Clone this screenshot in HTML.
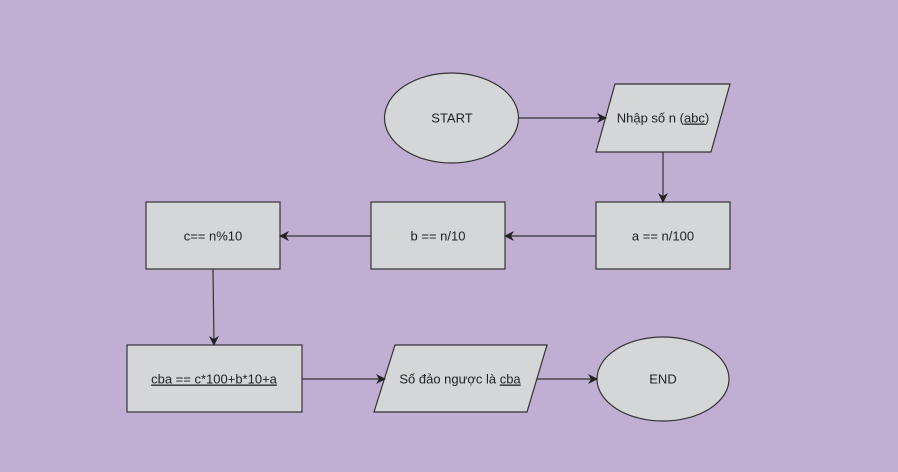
<!DOCTYPE html>
<html><head><meta charset="utf-8"><style>
html,body{margin:0;padding:0;background:#c1aed3;}
svg{display:block;}
text{font-family:"Liberation Sans",sans-serif;font-size:13px;fill:#222;}
</style></head><body>
<svg width="898" height="472" viewBox="0 0 898 472" xmlns="http://www.w3.org/2000/svg">
<defs><marker id="a" markerWidth="10" markerHeight="10" refX="9" refY="5" orient="auto" markerUnits="userSpaceOnUse"><path d="M0,0 L10,5 L0,10 L3,5 Z" fill="#222"/></marker></defs>
<rect width="898" height="472" fill="#c1aed3"/>
<g fill="#d5d6d8" stroke="#333" stroke-width="1.2">
<ellipse cx="451.5" cy="118" rx="67" ry="45"/>
<polygon points="615,84 730,84 711,152 596,152"/>
<rect x="596" y="202" width="134" height="67"/>
<rect x="371" y="202" width="134" height="67"/>
<rect x="146" y="202" width="134" height="67"/>
<rect x="127" y="345" width="175" height="67"/>
<polygon points="395,345 547,345 527,412 374,412"/>
<ellipse cx="663" cy="379" rx="66" ry="42"/>
</g>
<g stroke="#333" stroke-width="1.2" fill="none" marker-end="url(#a)">
<line x1="519" y1="118" x2="606" y2="118"/>
<line x1="663" y1="152" x2="663" y2="202"/>
<line x1="596" y1="236" x2="505" y2="236"/>
<line x1="371" y1="236" x2="280" y2="236"/>
<line x1="213" y1="269" x2="214" y2="345"/>
<line x1="302" y1="379" x2="385" y2="379"/>
<line x1="537" y1="379" x2="597" y2="379"/>
</g>
<g text-anchor="middle">
<text x="452" y="122.5">START</text>
<text x="663" y="122.5">Nhập số n (<tspan text-decoration="underline">abc</tspan>)</text>
<text x="663" y="240.5">a == n/100</text>
<text x="438" y="240.5">b == n/10</text>
<text x="213" y="240.5">c== n%10</text>
<text x="214" y="383.5" text-decoration="underline">cba == c*100+b*10+a</text>
<text x="460" y="383.5">Số đảo ngược là <tspan text-decoration="underline">cba</tspan></text>
<text x="663" y="383.5">END</text>
</g>
</svg>
</body></html>
